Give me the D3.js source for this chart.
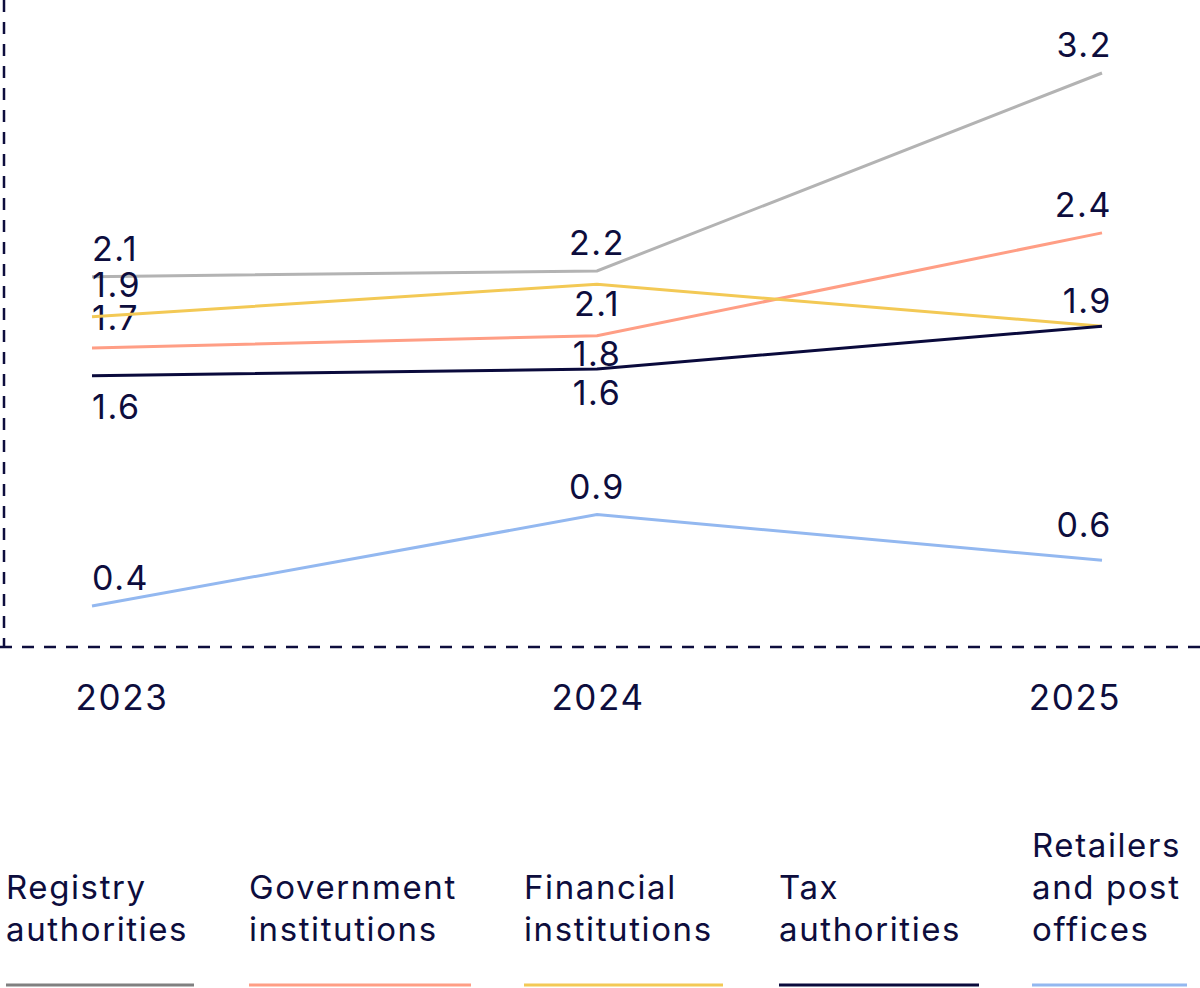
<!DOCTYPE html>
<html><head><meta charset="utf-8">
<script src="https://cdn.jsdelivr.net/npm/d3@7"></script>
<style>body{margin:0;background:#fff}text{font-family:Inter,"Noto Sans",sans-serif;fill:#0d0d3d;letter-spacing:1.6px}</style>
</head><body><div id="chart"></div>
<script>
const years = ['2023', '2024', '2025'];
const seriesNames = ['Registry authorities', 'Government institutions', 'Financial institutions', 'Tax authorities', 'Retailers and post offices'];
const legendLines = [['Registry', 'authorities'], ['Government', 'institutions'], ['Financial', 'institutions'], ['Tax', 'authorities'], ['Retailers', 'and post', 'offices']];
const registry = [2.13, 2.16, 3.2];
const government = [1.755, 1.82, 2.36];
const financial = [1.92, 2.09, 1.87];
const tax = [1.61, 1.645, 1.87];
const retailers = [0.4, 0.88, 0.64];
const registryLabels = ['2.1', '2.2', '3.2'];
const governmentLabels = ['1.7', '1.8', '2.4'];
const financialLabels = ['1.9', '2.1', ''];
const taxLabels = ['1.6', '1.6', '1.9'];
const retailersLabels = ['0.4', '0.9', '0.6'];
const colors = ['#b3b3b3', '#ff9e85', '#f3c955', '#0a0a3c', '#93b8f0'];
const legendColors = ['#808080', '#ff9e85', '#f3c955', '#0a0a3c', '#93b8f0'];

const values = [registry, government, financial, tax, retailers];
const labels = [registryLabels, governmentLabels, financialLabels, taxLabels, retailersLabels];
// baseline offset of each value label from its point
const labelDy = [[-16,-16,-16],[-18,30,-16],[-20,32,0],[43,36,-13],[-16,-16,-23]];

const W = 1200, H = 988;
const svg = d3.select('#chart').append('svg').attr('width', W).attr('height', H);
const x = d3.scalePoint().domain(years).range([92, 1102]);
const y = d3.scaleLinear().domain([0.4, 3.2]).range([606, 73]);

svg.append('line').attr('x1', 4).attr('x2', 4).attr('y1', 0).attr('y2', 647)
  .attr('stroke', '#0d0d3d').attr('stroke-width', 2.5).attr('stroke-dasharray', '12,10');
svg.append('line').attr('x1', 0).attr('x2', W).attr('y1', 647).attr('y2', 647)
  .attr('stroke', '#0d0d3d').attr('stroke-width', 2.5).attr('stroke-dasharray', '12,10');

svg.selectAll('.year').data(years).enter().append('text')
  .attr('x', d => x(d) + (d === '2023' ? 30 : d === '2025' ? -27 : 1)).attr('y', 710)
  .attr('text-anchor', 'middle').attr('font-size', 35).text(d => d);

const line = d3.line().x((d, i) => x(years[i])).y(d => y(d));
values.forEach((vals, s) => {
  svg.append('path').datum(vals).attr('d', line).attr('fill', 'none')
    .attr('stroke', colors[s]).attr('stroke-width', 3);
  vals.forEach((v, i) => {
    if (!labels[s][i]) return;
    const anchor = i === 0 ? 'start' : i === 1 ? 'middle' : 'end';
    svg.append('text').attr('x', x(years[i]) + (i === 2 ? 10 : 0))
      .attr('y', y(v) + labelDy[s][i])
      .attr('text-anchor', anchor).attr('font-size', 34).text(labels[s][i]);
  });
});

const lx = [6, 249, 524, 779, 1032], lw = [188, 222, 199, 200, 155];
seriesNames.forEach((n, s) => {
  const ls = legendLines[s];
  ls.forEach((t, k) => {
    svg.append('text').attr('x', lx[s]).attr('y', 941 - (ls.length - 1 - k) * 42)
      .attr('font-size', 33).text(t);
  });
  svg.append('line').attr('x1', lx[s]).attr('x2', lx[s] + lw[s]).attr('y1', 985).attr('y2', 985)
    .attr('stroke', legendColors[s]).attr('stroke-width', 3);
});
</script></body></html>
